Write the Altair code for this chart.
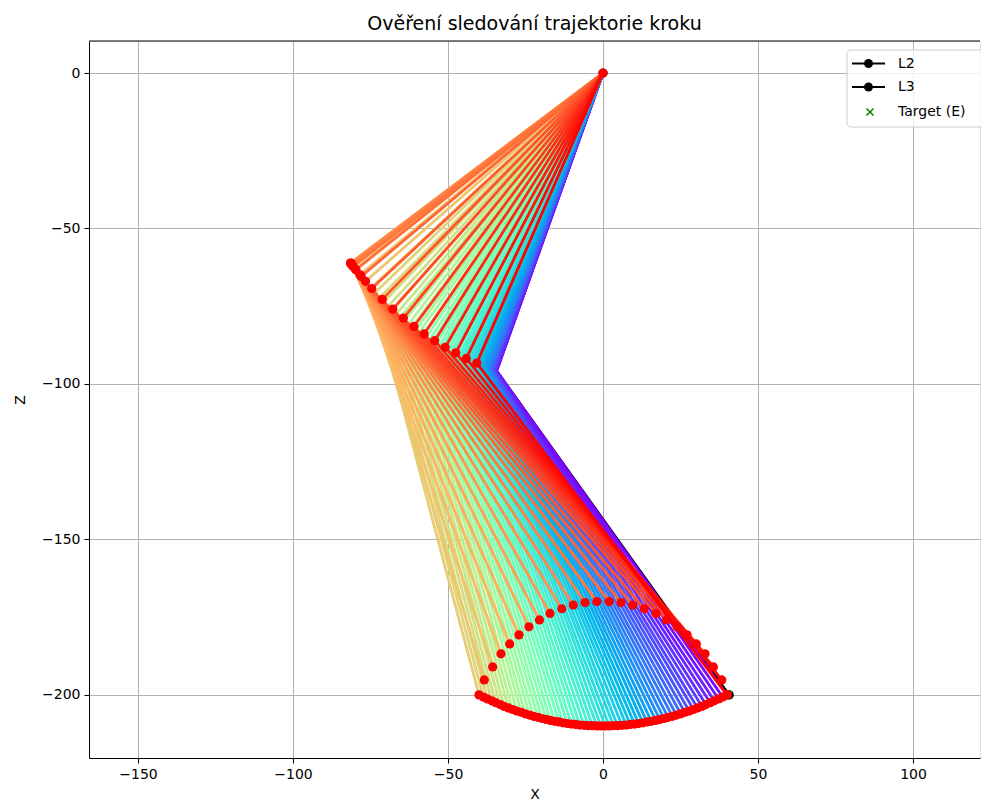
import math
import altair as alt
import pandas as pd

# Hip joint: the fixed start of segment L2
hip_x, hip_z = 0.0, 0.0

# Stance phase (foot sliding along the ground curve), frame by frame
stance_knee_x = [-34.3, -34.4, -34.5, -34.7, -34.8, -34.9, -35.1, -35.3, -35.5, -35.6,
                 -35.9, -36.1, -36.4, -36.6, -36.9, -37.2, -37.5, -37.9, -38.2, -38.6,
                 -38.9, -39.3, -39.7, -40.1, -40.5, -40.9, -41.4, -41.9, -42.5, -43.0,
                 -43.6, -44.3, -44.9, -45.6, -46.3, -47.2, -48.0, -48.8, -49.7, -50.6,
                 -51.6, -52.5, -53.5, -54.6, -55.6, -56.7, -57.8, -59.0, -60.1, -61.3,
                 -62.5, -63.8, -65.1, -66.4, -67.7, -69.1, -70.5, -71.9, -73.4, -74.8]
stance_knee_z = [-95.8, -95.8, -95.8, -95.7, -95.7, -95.6, -95.6, -95.5, -95.4, -95.4,
                 -95.3, -95.2, -95.1, -95.0, -94.9, -94.8, -94.6, -94.5, -94.4, -94.2,
                 -94.1, -93.9, -93.7, -93.6, -93.4, -93.2, -93.0, -92.8, -92.5, -92.3,
                 -92.0, -91.7, -91.4, -91.0, -90.7, -90.2, -89.8, -89.3, -88.8, -88.3,
                 -87.8, -87.2, -86.6, -85.9, -85.3, -84.5, -83.8, -83.0, -82.2, -81.3,
                 -80.4, -79.3, -78.3, -77.2, -76.0, -74.8, -73.4, -72.1, -70.5, -69.1]
stance_foot_x = [40.0, 38.6, 37.3, 35.9, 34.6, 33.2, 31.9, 30.5, 29.2, 27.8,
                 26.4, 25.1, 23.7, 22.4, 21.0, 19.7, 18.3, 17.0, 15.6, 14.2,
                 12.9, 11.5, 10.2, 8.8, 7.5, 6.1, 4.7, 3.4, 2.0, 0.7,
                 -0.7, -2.0, -3.4, -4.7, -6.1, -7.5, -8.8, -10.2, -11.5, -12.9,
                 -14.2, -15.6, -17.0, -18.3, -19.7, -21.0, -22.4, -23.7, -25.1, -26.4,
                 -27.8, -29.2, -30.5, -31.9, -33.2, -34.6, -35.9, -37.3, -38.6, -40.0]
stance_foot_z = [-200.0, -200.7, -201.3, -201.9, -202.5, -203.1, -203.7, -204.2, -204.7, -205.2,
                 -205.6, -206.1, -206.5, -206.9, -207.2, -207.6, -207.9, -208.2, -208.5, -208.7,
                 -209.0, -209.2, -209.4, -209.5, -209.7, -209.8, -209.9, -209.9, -210.0, -210.0,
                 -210.0, -210.0, -209.9, -209.9, -209.8, -209.7, -209.5, -209.4, -209.2, -209.0,
                 -208.7, -208.5, -208.2, -207.9, -207.6, -207.2, -206.9, -206.5, -206.1, -205.6,
                 -205.2, -204.7, -204.2, -203.7, -203.1, -202.5, -201.9, -201.3, -200.7, -200.0]

# Swing phase (foot lifted along the upper arc), frame by frame
swing_knee_x = [-76.6, -78.4, -79.7, -80.5, -81.0, -81.3, -81.4, -81.4, -81.3, -81.2,
                -81.0, -80.6, -79.8, -78.0, -74.6, -71.2, -67.8, -64.4, -61.0, -57.7,
                -54.3, -50.9, -47.5, -44.1, -40.7]
swing_knee_z = [-67.0, -64.9, -63.3, -62.3, -61.7, -61.3, -61.1, -61.1, -61.3, -61.4,
                -61.7, -62.2, -63.2, -65.4, -69.3, -72.8, -75.9, -78.8, -81.5, -83.9,
                -86.1, -88.2, -90.0, -91.8, -93.3]
swing_foot_x = [-38.3, -35.6, -32.9, -30.1, -27.1, -23.9, -20.5, -17.1, -13.3, -9.6,
                -5.8, -2.0, 2.0, 5.8, 9.6, 13.3, 17.1, 20.5, 23.9, 27.1,
                30.1, 32.9, 35.6, 38.3, 40.0]
swing_foot_z = [-195.2, -191.0, -186.8, -183.6, -180.7, -178.1, -175.9, -173.8, -172.3, -171.1,
                -170.3, -170.0, -170.0, -170.3, -171.1, -172.3, -173.8, -175.9, -178.1, -180.7,
                -183.6, -186.8, -191.0, -195.2, -200.0]

# Reference pose (L2, L3) and the target end point E
pose_knee_x, pose_knee_z = -34.3, -95.8
pose_foot_x, pose_foot_z = 40.7, -200.0
target_x, target_z = 40.5, -200.0

legend_labels = ["L2", "L3", "Target (E)"]
TITLE = "Ověření sledování trajektorie kroku"
FONT = "DejaVu Sans"

W, H = 891, 717
X_DOMAIN = [-165.8, 121.6]
Z_DOMAIN = [-220.3, 10.3]


def rainbow(t):
    """matplotlib-style 'rainbow' colormap."""
    r = abs(2 * t - 0.5)
    g = math.sin(math.pi * t)
    b = math.cos(math.pi * t / 2)
    return "#%02x%02x%02x" % tuple(int(round(max(0.0, min(1.0, c)) * 255)) for c in (r, g, b))


knee_x = stance_knee_x + swing_knee_x
knee_z = stance_knee_z + swing_knee_z
foot_x = stance_foot_x + swing_foot_x
foot_z = stance_foot_z + swing_foot_z
n = len(knee_x)

segments = []
for i in range(n):
    col = rainbow(i / (n - 1))
    segments.append(dict(x=hip_x, z=hip_z, x2=knee_x[i], z2=knee_z[i], col=col, ord=2 * i))
    segments.append(dict(x=knee_x[i], z=knee_z[i], x2=foot_x[i], z2=foot_z[i], col=col, ord=2 * i + 1))
seg_df = pd.DataFrame(segments)

pose_df = pd.DataFrame([
    dict(x=hip_x, z=hip_z, x2=pose_knee_x, z2=pose_knee_z),
    dict(x=pose_knee_x, z=pose_knee_z, x2=pose_foot_x, z2=pose_foot_z),
])
pose_pts = pd.DataFrame(dict(x=[hip_x, pose_foot_x], z=[hip_z, pose_foot_z]))
target_df = pd.DataFrame(dict(x=[target_x], z=[target_z]))

# red joint markers: hip, every foot position, knee during swing
dots_df = pd.DataFrame(dict(
    x=[hip_x] + foot_x + swing_knee_x,
    z=[hip_z] + foot_z + swing_knee_z,
))

xs = alt.Scale(domain=X_DOMAIN, nice=False, zero=False)
zs = alt.Scale(domain=Z_DOMAIN, nice=False, zero=False)
axis_common = dict(
    grid=True, gridColor="#b0b0b0", gridWidth=1,
    tickSize=5, tickWidth=1, tickColor="black",
    domainColor="black", domainWidth=1,
    labelFontSize=14, labelColor="black", labelFont=FONT, labelPadding=4,
    titleFontSize=14, titleFontWeight="normal", titleColor="black", titleFont=FONT,
    format="d",
)
xa = alt.Axis(values=[-150, -100, -50, 0, 50, 100], title="X", titlePadding=6, **axis_common)
za = alt.Axis(values=[-200, -150, -100, -50, 0], title="Z", titlePadding=14, **axis_common)


def xy():
    return dict(x=alt.X("x:Q", scale=xs, axis=xa), y=alt.Y("z:Q", scale=zs, axis=za))


DOT = 85
X_SHAPE = "M-1,-1L1,1M-1,1L1,-1"

pose_lines = alt.Chart(pose_df).mark_rule(color="black", strokeWidth=2.4).encode(
    x2="x2:Q", y2="z2:Q", **xy())
pose_marks = alt.Chart(pose_pts).mark_circle(color="black", size=DOT, opacity=1).encode(**xy())
target_mark = alt.Chart(target_df).mark_point(
    shape=X_SHAPE, color="green", strokeWidth=1.5, size=50, filled=False, opacity=1
).encode(**xy())

frames = alt.Chart(seg_df).mark_rule(strokeWidth=2.8, strokeCap="round").encode(
    x2="x2:Q", y2="z2:Q",
    color=alt.Color("col:N", scale=None),
    order=alt.Order("ord:Q"),
    **xy(),
)
dots = alt.Chart(dots_df).mark_circle(color="#ff0000", size=DOT, opacity=1).encode(**xy())

# top spine of the frame
one = pd.DataFrame(dict(a=[0]))
top_spine = alt.Chart(one).mark_rule(color="black", strokeWidth=1).encode(
    x=alt.value(0), x2=alt.value(W), y=alt.value(0))

# legend box (upper right)
lx0, ly0 = 758, 9
leg_box = alt.Chart(one).mark_rect(
    fill="white", fillOpacity=0.8, stroke="#cccccc", strokeWidth=1, cornerRadius=4
).encode(x=alt.value(lx0), x2=alt.value(lx0 + 160), y=alt.value(ly0), y2=alt.value(ly0 + 77))
row_y = [22.5, 46, 71]
leg_layers = [leg_box]
for k in range(2):
    leg_layers.append(alt.Chart(one).mark_rule(color="black", strokeWidth=2).encode(
        x=alt.value(lx0 + 5), x2=alt.value(lx0 + 38), y=alt.value(row_y[k])))
    leg_layers.append(alt.Chart(one).mark_circle(color="black", size=80, opacity=1).encode(
        x=alt.value(lx0 + 21.5), y=alt.value(row_y[k])))
leg_layers.append(alt.Chart(one).mark_point(
    shape=X_SHAPE, color="green", strokeWidth=1.5, size=50, filled=False, opacity=1
).encode(x=alt.value(lx0 + 23), y=alt.value(row_y[2])))
for k, lab in enumerate(legend_labels):
    leg_layers.append(alt.Chart(one).mark_text(
        align="left", baseline="middle", fontSize=14, font=FONT, color="black"
    ).encode(x=alt.value(lx0 + 51), y=alt.value(row_y[k]), text=alt.value(lab)))

chart = alt.layer(
    pose_lines, pose_marks, target_mark, frames, dots, top_spine, *leg_layers
).properties(
    width=W, height=H,
    title=alt.TitleParams(TITLE, fontSize=19, font=FONT, fontWeight="normal",
                          anchor="middle", offset=7, color="black"),
    autosize=alt.AutoSizeParams(type="none"),
    padding={"left": 89, "top": 41, "right": 1, "bottom": 47},
).configure_view(strokeWidth=0).configure(font=FONT)

chart.save("out.html", embed_options={"renderer": "svg", "actions": False})
